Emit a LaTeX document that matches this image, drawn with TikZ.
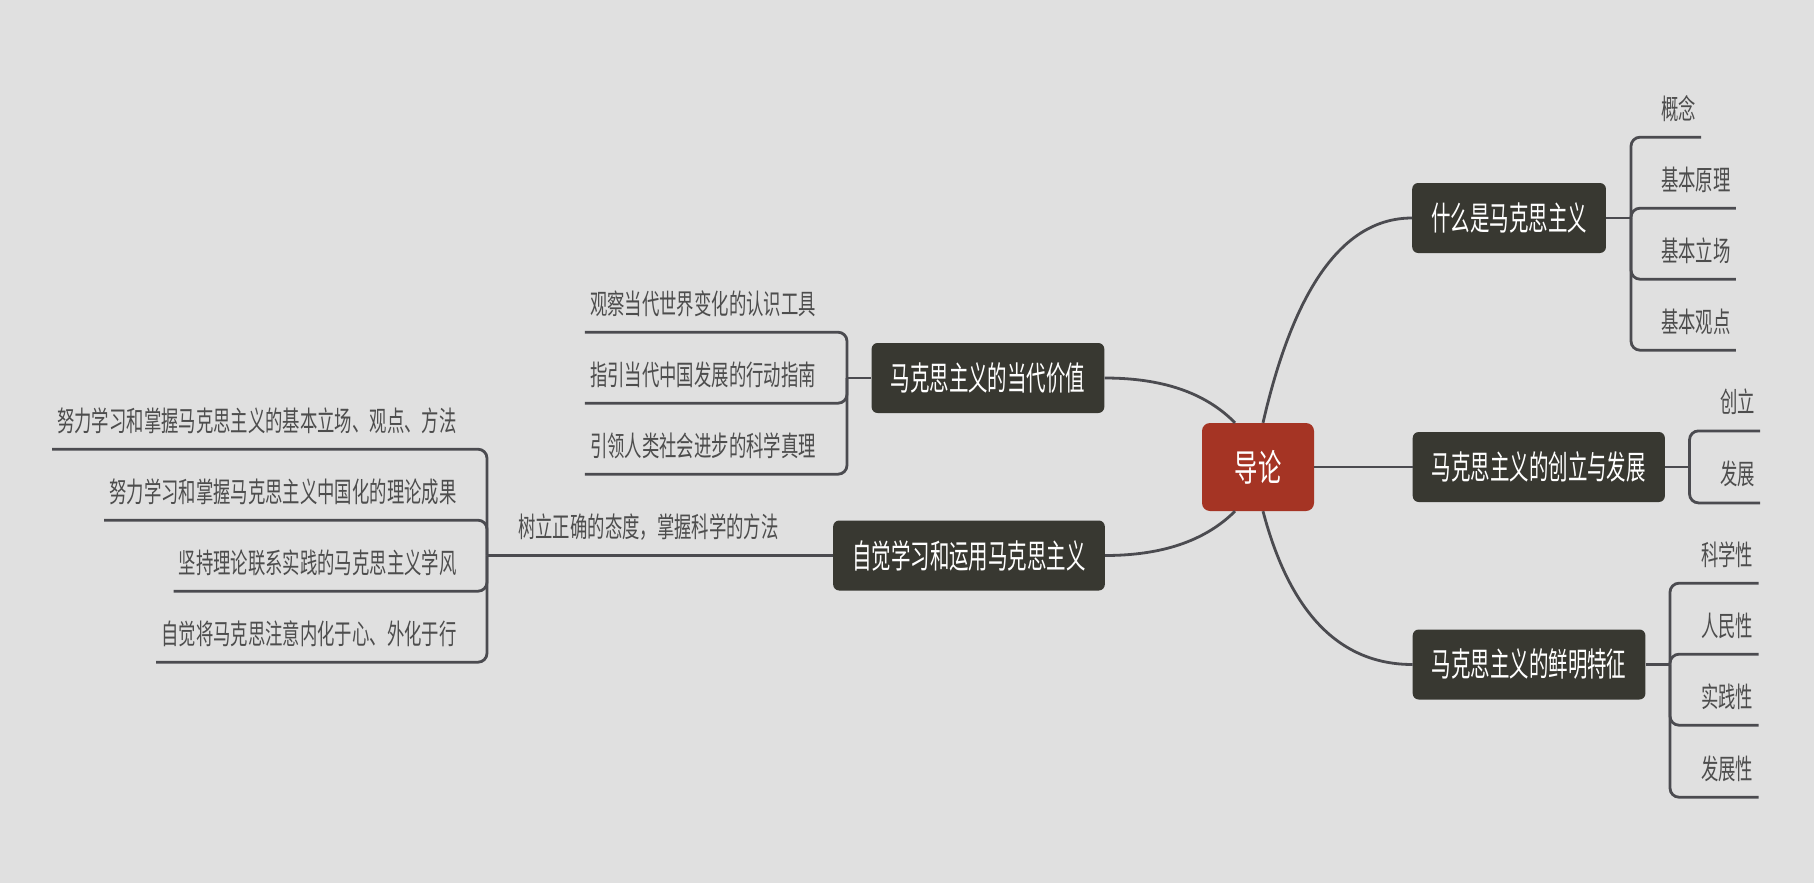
\documentclass[tikz,border=0pt]{standalone}
\usepackage{fontspec}
\newfontfamily\cjkleaf[FakeStretch=0.62]{Noto Sans CJK SC}
\newfontfamily\cjknode[FakeStretch=0.59]{Noto Sans CJK SC}
\newfontfamily\cjkroot[FakeStretch=0.63]{Noto Sans CJK SC}
\definecolor{bgc}{HTML}{E0E0E0}
\definecolor{nodefill}{HTML}{383831}
\definecolor{rootfill}{HTML}{A53424}
\definecolor{linec}{HTML}{4B4B50}
\definecolor{leafc}{HTML}{4D4D4D}
\begin{document}
\begin{tikzpicture}[x=1pt,y=-1pt,
  conn/.style={draw=linec, line width=2.8pt},
  elbow/.style={conn, rounded corners=9pt},
  topic/.style={fill=nodefill, text=white, rounded corners=6pt, minimum height=70pt, inner xsep=19pt, inner ysep=0pt, font=\cjknode\fontsize{33}{35}\selectfont},
  root/.style={fill=rootfill, text=white, rounded corners=8pt, minimum height=88pt, minimum width=112pt, inner sep=0pt, font=\cjkroot\fontsize{37}{40}\selectfont},
  leaf/.style={text=leafc, inner sep=0pt, minimum height=57pt, font=\cjkleaf\fontsize{28}{30}\selectfont},
]
\fill[bgc] (0,0) rectangle (1814,883);
\useasboundingbox (0,0) rectangle (1814,883);

% main topics
\node[root] (dao) at (1258,467) {导论};
\node[topic, anchor=west] (a1) at (1412,218) {什么是马克思主义};
\node[topic, anchor=west] (a2) at (1412.5,467) {马克思主义的创立与发展};
\node[topic, anchor=west] (a3) at (1412.5,664.5) {马克思主义的鲜明特征};
\node[topic, anchor=east] (b1) at (1104.5,378) {马克思主义的当代价值};
\node[topic, anchor=east] (b2) at (1105,555.5) {自觉学习和运用马克思主义};

% junctions
\coordinate (ja1) at (1631,218);
\coordinate (ja2) at (1689.5,467);
\coordinate (ja3) at (1670,664.5);
\coordinate (jb1) at (847,378);
\coordinate (jb2) at (487,555.5);

% curves from root
\draw[conn] ([xshift=5pt]dao.north) .. controls (1294.3,286.3) and (1344,218) .. (a1.west);
\draw[conn] (dao.east) -- (a2.west);
\draw[conn] ([xshift=5pt]dao.south) .. controls (1289.7,612.7) and (1339.3,664.5) .. (a3.west);
\draw[conn] ([xshift=-23pt]dao.north) .. controls (1205,392.3) and (1161.7,378) .. (b1.east);
\draw[conn] ([xshift=-23pt]dao.south) .. controls (1205,541) and (1161.7,555.5) .. (b2.east);

% A1 leaves
\node[leaf, anchor=west] (a1l1) at (1661,108.5) {概念};
\node[leaf, anchor=west] (a1l2) at (1661,179.5) {基本原理};
\node[leaf, anchor=west] (a1l3) at (1661,250.5) {基本立场};
\node[leaf, anchor=west] (a1l4) at (1661,321.5) {基本观点};
\draw[conn] (a1.east) -- (ja1);
\draw[elbow] (ja1) |- ([xshift=5pt]a1l1.south east);
\draw[elbow] (ja1) |- ([xshift=5pt]a1l2.south east);
\draw[elbow] (ja1) |- ([xshift=5pt]a1l3.south east);
\draw[elbow] (ja1) |- ([xshift=5pt]a1l4.south east);

% A2 leaves
\node[leaf, anchor=west] (a2l1) at (1720,402.2) {创立};
\node[leaf, anchor=west] (a2l2) at (1720,474.2) {发展};
\draw[conn] (a2.east) -- (ja2);
\draw[elbow] (ja2) |- ([xshift=5pt]a2l1.south east);
\draw[elbow] (ja2) |- ([xshift=5pt]a2l2.south east);

% A3 leaves
\node[leaf, anchor=west] (a3l1) at (1701,554.5) {科学性};
\node[leaf, anchor=west] (a3l2) at (1701,625.5) {人民性};
\node[leaf, anchor=west] (a3l3) at (1701,696.5) {实践性};
\node[leaf, anchor=west] (a3l4) at (1701,768.5) {发展性};
\draw[conn] (a3.east) -- (ja3);
\draw[elbow] (ja3) |- ([xshift=5pt]a3l1.south east);
\draw[elbow] (ja3) |- ([xshift=5pt]a3l2.south east);
\draw[elbow] (ja3) |- ([xshift=5pt]a3l3.south east);
\draw[elbow] (ja3) |- ([xshift=5pt]a3l4.south east);

% B1 leaves
\node[leaf, anchor=east] (b1l1) at (816,303.5) {观察当代世界变化的认识工具};
\node[leaf, anchor=east] (b1l2) at (816,374.5) {指引当代中国发展的行动指南};
\node[leaf, anchor=east] (b1l3) at (816,445.5) {引领人类社会进步的科学真理};
\draw[conn] (b1.west) -- (jb1);
\draw[elbow] (jb1) |- ([xshift=-5pt]b1l1.south west);
\draw[elbow] (jb1) |- ([xshift=-5pt]b1l2.south west);
\draw[elbow] (jb1) |- ([xshift=-5pt]b1l3.south west);

% B2 subtopic and leaves
\node[leaf, anchor=west] (b2s) at (518,527) {树立正确的态度，掌握科学的方法};
\draw[conn] (b2.west) -- (jb2);
\node[leaf, anchor=east] (b2l1) at (456.7,420.5) {努力学习和掌握马克思主义的基本立场、观点、方法};
\node[leaf, anchor=east] (b2l2) at (456.7,491.5) {努力学习和掌握马克思主义中国化的理论成果};
\node[leaf, anchor=east] (b2l3) at (456.7,562.5) {坚持理论联系实践的马克思主义学风};
\node[leaf, anchor=east] (b2l4) at (456.7,633.5) {自觉将马克思注意内化于心、外化于行};
\draw[elbow] (jb2) |- ([xshift=-5pt]b2l1.south west);
\draw[elbow] (jb2) |- ([xshift=-5pt]b2l2.south west);
\draw[elbow] (jb2) |- ([xshift=-5pt]b2l3.south west);
\draw[elbow] (jb2) |- ([xshift=-5pt]b2l4.south west);
\end{tikzpicture}
\end{document}
